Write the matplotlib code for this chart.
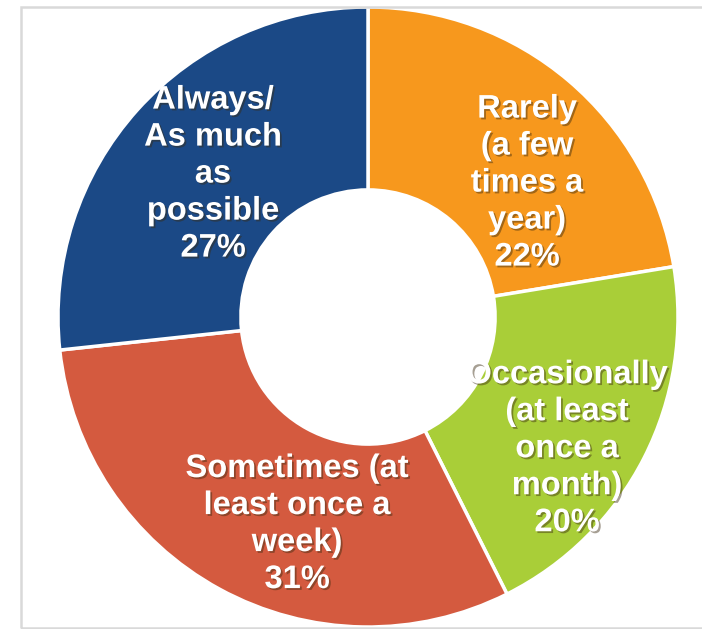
import matplotlib
matplotlib.use("Agg")
import matplotlib.pyplot as plt
import matplotlib.patheffects as pe
from matplotlib.patches import Rectangle

categories = ["Rarely\n(a few\ntimes a\nyear)", "Occasionally\n(at least\nonce a\nmonth)",
              "Sometimes (at\nleast once a\nweek)", "Always/\nAs much\nas\npossible"]
values = [22.4, 20.2, 30.7, 26.7]
colors = ["#F7981D", "#A9CE38", "#D45A3F", "#1B4986"]
# label centres in units of outer radius (layout)
label_pos = [(0.513, 0.432), (0.642, -0.425), (-0.229, -0.668), (-0.50, 0.461)]

W, H = 702, 629
cx, cy, R = 368, 312, 310

fig = plt.figure(figsize=(W / 100, H / 100), dpi=100)
ax = fig.add_axes([0, 0, 1, 1])

fig.patches.append(Rectangle((20.5 / W, 1.5 / H), 1.2, (622.5 - 1.5) / H,
                             transform=fig.transFigure, fill=False,
                             edgecolor="#D9D9D9", linewidth=1.8))

ax.pie(values, colors=colors, startangle=90, counterclock=False, radius=1,
       wedgeprops=dict(width=0.59, edgecolor="white", linewidth=2.5))
ax.set_xlim(-cx / R, (W - cx) / R)
ax.set_ylim(-cy / R, (H - cy) / R)
ax.set_aspect("equal")
ax.axis("off")

for (x, y), lab, v in zip(label_pos, categories, values):
    ax.text(x, y, f"{lab}\n{round(v)}%", ha="center", va="center", color="white",
            fontsize=23.5, fontweight="bold", family="Liberation Sans",
            linespacing=1.25,
            path_effects=[pe.SimplePatchShadow(offset=(1.3, -1.3), alpha=0.45,
                                               shadow_rgbFace="#3a2a10"),
                          pe.Normal()])

fig.savefig("out.png", dpi=100)
